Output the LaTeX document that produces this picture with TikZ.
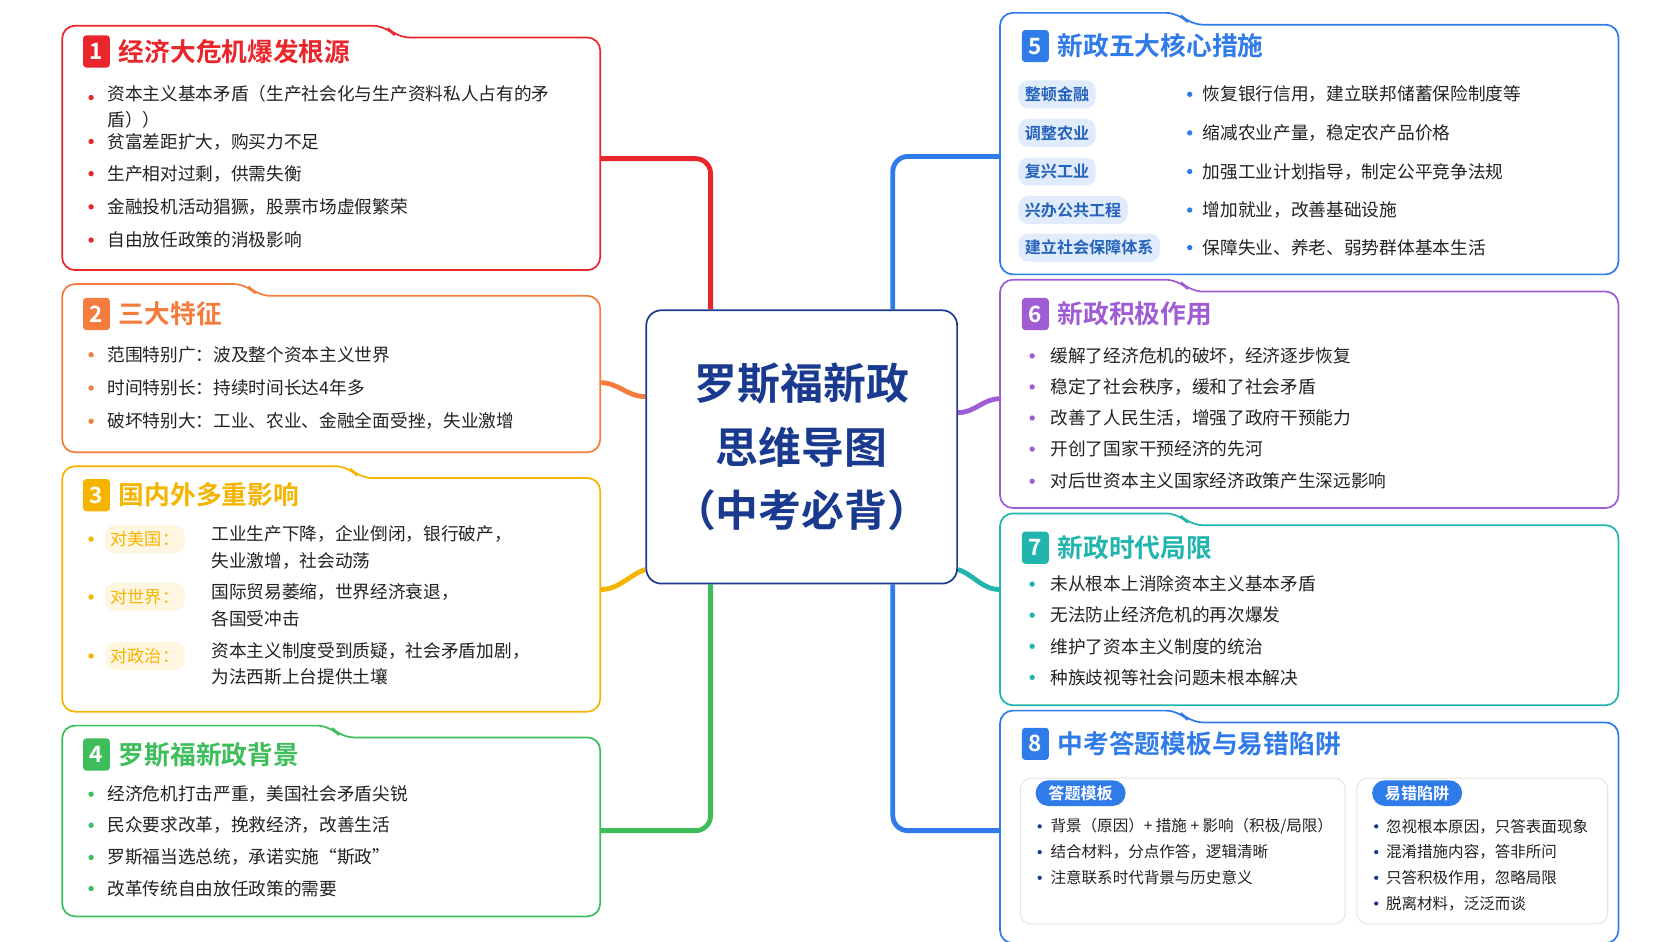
\documentclass[tikz,border=0pt]{standalone}
\usepackage{fontspec}
\setmainfont{Noto Sans CJK SC}[BoldFont={Noto Sans CJK SC Bold}]
\usetikzlibrary{positioning}

\definecolor{cred}{HTML}{E8262B}
\definecolor{corange}{HTML}{F47C3C}
\definecolor{cyellow}{HTML}{F5B400}
\definecolor{cgreen}{HTML}{3DBE5A}
\definecolor{cblue}{HTML}{2F7BEA}
\definecolor{cpurple}{HTML}{A05CD5}
\definecolor{cteal}{HTML}{22B5AE}
\definecolor{cnavy}{HTML}{1A3A8F}
\definecolor{ctext}{HTML}{222222}

\tikzset{
  link/.style={line width=4.5pt, rounded corners=14pt, #1},
  badge/.style={fill=#1, text=white, font=\fontsize{21}{21}\bfseries, rounded corners=3pt,
    minimum width=25pt, minimum height=30pt, inner sep=0pt},
  ttl/.style={text=#1, font=\fontsize{24}{26}\bfseries, anchor=west, inner sep=0pt},
  item/.style={text=ctext, font=\fontsize{16.5}{25}\selectfont, anchor=west, inner sep=0pt, align=left},
  small/.style={text=ctext, font=\fontsize{14.5}{18}\selectfont, anchor=west, inner sep=0pt},
  dot/.style={circle, fill=#1, minimum size=5pt, inner sep=0pt},
  pill/.style={fill=#1, rounded corners=9pt, inner xsep=8pt, minimum height=26pt, anchor=west,
    font=\fontsize{15}{15}\bfseries},
  hubstyle/.style={draw=cnavy, line width=1.6pt, rounded corners=14pt, fill=white, minimum width=290pt,
    minimum height=255pt, text=cnavy, align=center, font=\fontsize{40}{59}\bfseries},
}

% panel with a tab on its top edge: x1, y1, x2, y2, tab end, colour
\newcommand\panel[6]{%
  \draw[#6, line width=1.6pt, fill=white, rounded corners=12pt]
    (#5+10,#2) -- (#3,#2) -- (#3,#4) -- (#1,#4) -- (#1,#2-11) -- (#5,#2-11) -- cycle;}

\begin{document}
\begin{tikzpicture}[x=1pt, y=-1pt]
  \useasboundingbox (0,0) rectangle (1560,878);

  % hub
  \coordinate (hubc) at (748,417);
  \node[hubstyle, draw=none, fill=none, text opacity=0] (hub) at (hubc) {罗斯福新政\\思维导图\\（中考必背）};

  \coordinate (b1) at (560,148);
  \coordinate (b2) at (560,357);
  \coordinate (b3) at (560,550);
  \coordinate (b4) at (560,775);
  \coordinate (b5) at (933,146);
  \coordinate (b6) at (933,372);
  \coordinate (b7) at (933,550);
  \coordinate (b8) at (933,775);

  % connectors
  \draw[link=cred] (b1) -| ([xshift=-85pt]hub.north);
  \draw[link=corange] (b2) to[out=0, in=180] ([yshift=47pt]hub.west);
  \draw[link=cyellow] (b3) to[out=0, in=200] ([yshift=14pt]hub.south west);
  \draw[link=cgreen] (b4) -| ([xshift=-85pt]hub.south);
  \draw[link=cblue] (b5) -| ([xshift=85pt]hub.north);
  \draw[link=cpurple] (b6) to[out=180, in=0] ([yshift=32pt]hub.east);
  \draw[link=cteal] (b7) to[out=180, in=-20] ([yshift=14pt]hub.south east);
  \draw[link=cblue] (b8) -| ([xshift=85pt]hub.south);
  \node[hubstyle] at (hubc) {罗斯福新政\\思维导图\\（中考必背）};

  % 1
  \panel{58}{35}{560}{252}{360}{cred}
  \node[badge=cred] (n1) at (90,48) {1};
  \node[ttl=cred, right=8pt of n1] (t1) {经济大危机爆发根源};
  \node[dot=cred] at (85,91) {};
  \node[item, anchor=north west] at (100,79) {资本主义基本矛盾（生产社会化与生产资料私人占有的矛\\盾））};
  \foreach \y/\txt in {132/贫富差距扩大，购买力不足, 162/生产相对过剩，供需失衡,
      193/金融投机活动猖獗，股票市场虚假繁荣, 224/自由放任政策的消极影响}{
    \node[dot=cred] at (85,\y) {};
    \node[item] at (100,\y) {\txt};
  }

  % 2
  \panel{58}{276}{560}{422}{230}{corange}
  \node[badge=corange] (n2) at (90,293) {2};
  \node[ttl=corange, right=8pt of n2] (t2) {三大特征};
  \foreach \y/\txt in {331/范围特别广：波及整个资本主义世界, 362/时间特别长：持续时间长达4年多,
      393/破坏特别大：工业、农业、金融全面受挫，失业激增}{
    \node[dot=corange] at (85,\y) {};
    \node[item] at (100,\y) {\txt};
  }

  % 3
  \panel{58}{446}{560}{664}{325}{cyellow}
  \node[badge=cyellow] (n3) at (90,462) {3};
  \node[ttl=cyellow, right=8pt of n3] (t3) {国内外多重影响};
  \foreach \y/\lab/\txt in {503/对美国：/{工业生产下降，企业倒闭，银行破产，\\失业激增，社会动荡},
      557/对世界：/{国际贸易萎缩，世界经济衰退，\\各国受冲击},
      612/对政治：/{资本主义制度受到质疑，社会矛盾加剧，\\为法西斯上台提供土壤}}{
    \node[dot=cyellow] at (85,\y) {};
    \node[pill=cyellow!12, text=cyellow, font=\fontsize{16}{16}\selectfont, inner xsep=5pt] at (98,\y) {\lab};
    \node[item, anchor=north west] at (197,\y-13) {\txt};
  }

  % 4
  \panel{58}{688}{560}{855}{308}{cgreen}
  \node[badge=cgreen] (n4) at (90,704) {4};
  \node[ttl=cgreen, right=8pt of n4] (t4) {罗斯福新政背景};
  \foreach \y/\txt in {741/经济危机打击严重，美国社会矛盾尖锐, 770/民众要求改革，挽救经济，改善生活,
      800/罗斯福当选总统，承诺实施“斯政”, 829/改革传统自由放任政策的需要}{
    \node[dot=cgreen] at (85,\y) {};
    \node[item] at (100,\y) {\txt};
  }

  % 5
  \panel{933}{23}{1510}{256}{1100}{cblue}
  \node[badge=cblue] (n5) at (966,43) {5};
  \node[ttl=cblue, right=8pt of n5] (t5) {新政五大核心措施};
  \foreach \y/\lab/\txt in {88/整顿金融/恢复银行信用，建立联邦储蓄保险制度等,
      124/调整农业/缩减农业产量，稳定农产品价格, 160/复兴工业/加强工业计划指导，制定公平竞争法规,
      196/兴办公共工程/增加就业，改善基础设施, 231/建立社会保障体系/保障失业、养老、弱势群体基本生活}{
    \node[pill=cblue!15, text=cblue!80!black, inner xsep=6pt] at (950,\y) {\lab};
    \node[dot=cblue] at (1110,\y) {};
    \node[item] at (1122,\y) {\txt};
  }

  % 6
  \panel{933}{272}{1510}{474}{1100}{cpurple}
  \node[badge=cpurple] (n6) at (966,293) {6};
  \node[ttl=cpurple, right=8pt of n6] (t6) {新政积极作用};
  \foreach \y/\txt in {332/缓解了经济危机的破坏，经济逐步恢复, 361/稳定了社会秩序，缓和了社会矛盾,
      390/改善了人民生活，增强了政府干预能力, 419/开创了国家干预经济的先河,
      449/对后世资本主义国家经济政策产生深远影响}{
    \node[dot=cpurple] at (963,\y) {};
    \node[item] at (980,\y) {\txt};
  }

  % 7
  \panel{933}{490}{1510}{658}{1100}{cteal}
  \node[badge=cteal] (n7) at (966,511) {7};
  \node[ttl=cteal, right=8pt of n7] (t7) {新政时代局限};
  \foreach \y/\txt in {545/未从根本上消除资本主义基本矛盾, 574/无法防止经济危机的再次爆发,
      603/维护了资本主义制度的统治, 632/种族歧视等社会问题未根本解决}{
    \node[dot=cteal] at (963,\y) {};
    \node[item] at (980,\y) {\txt};
  }

  % 8
  \panel{933}{674}{1510}{880}{1100}{cblue}
  \node[badge=cblue] (n8) at (966,694) {8};
  \node[ttl=cblue, right=8pt of n8] (t8) {中考答题模板与易错陷阱};
  \draw[black!10, line width=1pt, rounded corners=10pt] (952,726) rectangle (1255,862);
  \draw[black!10, line width=1pt, rounded corners=10pt] (1266,726) rectangle (1500,862);
  \node[pill=cblue, text=white, rounded corners=12pt, minimum height=24pt, inner xsep=12pt] (p1) at (966,740) {答题模板};
  \node[pill=cblue, text=white, rounded corners=12pt, minimum height=24pt, inner xsep=12pt] (p2) at (1280,740) {易错陷阱};
  \foreach \y/\txt in {771/{背景（原因）+ 措施 + 影响（积极/局限）}, 795/结合材料，分点作答，逻辑清晰,
      819/注意联系时代背景与历史意义}{
    \node[dot=cnavy, minimum size=4pt] at (970,\y) {};
    \node[small] at (980,\y) {\txt};
  }
  \foreach \y/\txt in {771/忽视根本原因，只答表面现象, 795/混淆措施内容，答非所问,
      819/只答积极作用，忽略局限, 843/脱离材料，泛泛而谈}{
    \node[dot=cnavy, minimum size=4pt] at (1284,\y) {};
    \node[small] at (1293,\y) {\txt};
  }
\end{tikzpicture}
\end{document}
